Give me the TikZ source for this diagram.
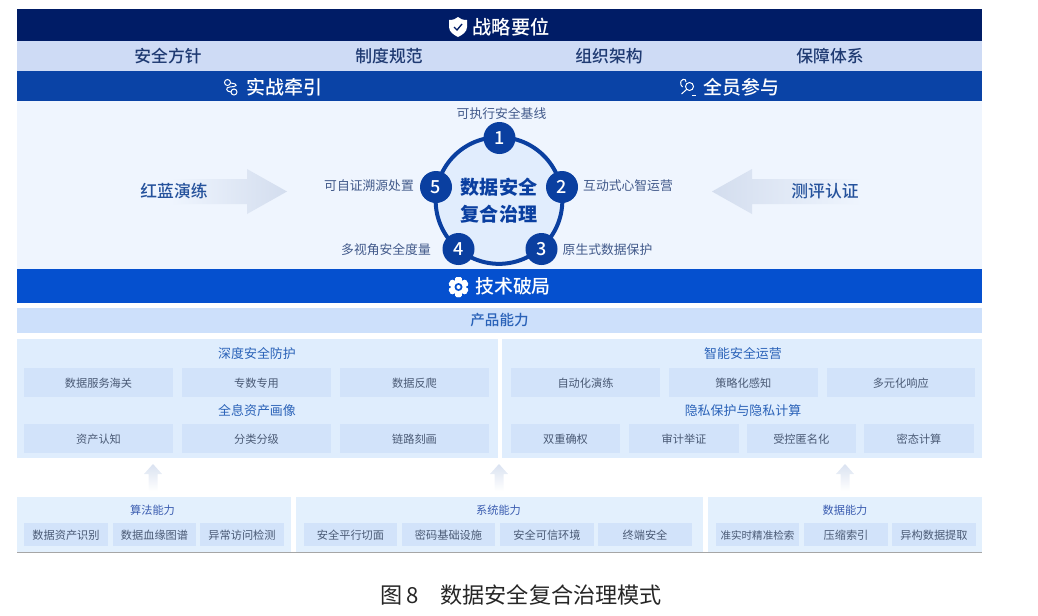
\documentclass[tikz,border=0pt]{standalone}
\usepackage{fontspec}
\setmainfont{Noto Sans CJK SC}
\newfontfamily\medfont{Noto Sans CJK SC Medium}
\usetikzlibrary{calc}
\definecolor{cTop}{HTML}{001C66}
\definecolor{cSub}{HTML}{CEDBF5}
\definecolor{cMid}{HTML}{0A43A6}
\definecolor{cLight}{HTML}{EFF5FE}
\definecolor{cTech}{HTML}{0550CF}
\definecolor{cProd}{HTML}{CDE0FB}
\definecolor{cPanel}{HTML}{DFEDFD}
\definecolor{cItem}{HTML}{D2E3FA}
\definecolor{cBase}{HTML}{E3F0FD}
\definecolor{cNavy}{HTML}{1F3A72}
\definecolor{cLabel}{HTML}{41598A}
\definecolor{cItemT}{HTML}{4A5A75}
\definecolor{cHead}{HTML}{2A62B8}
\definecolor{cHeadB}{HTML}{3A5CB0}
\definecolor{cNum}{HTML}{0A3FA0}
\definecolor{cArrow}{HTML}{D3DDEE}
\newcommand{\fs}[1]{\fontsize{#1}{#1}\selectfont}
\tikzset{
  x=0.75pt,y=-0.75pt,
  box/.style={inner sep=0pt,outer sep=0pt,rectangle,align=center},
  topband/.style={box,fill=cTop},
  subband/.style={box,fill=cSub},
  midband/.style={box,fill=cMid},
  lightarea/.style={box,fill=cLight},
  techband/.style={box,fill=cTech},
  prodband/.style={box,fill=cProd,text=cHead,font=\fs{10.9}\medfont},
  panel/.style={box,fill=cPanel},
  basepanel/.style={box,fill=cBase},
  item/.style={box,fill=cItem,text=cItemT,font=\fs{8.4},text height=8.6pt,text depth=1pt},
  whitelabel/.style={inner sep=0pt,text=white,font=\fs{14.2}\medfont},
  sublabel/.style={inner sep=0pt,text=cNavy,font=\fs{12.6}\medfont},
  grouphead/.style={inner sep=0pt,text=cHead,font=\fs{9.7},text height=10pt,text depth=1.2pt},
  basehead/.style={inner sep=0pt,text=cHeadB,font=\fs{8.4}},
  steplabel/.style={inner sep=0pt,text=cLabel,font=\fs{9.6}},
  sidelabel/.style={inner sep=0pt,text=cHead!60!cNavy,font=\fs{12.6}\medfont},
  numdot/.style={circle,fill=cNum,text=white,inner sep=0pt,minimum size=24pt,font=\fs{13.5}\medfont},
  ring/.style={circle,draw=cNum,fill=cLight!60!cProd,line width=3pt,inner sep=0pt,minimum size=95pt,
    align=center,text=cNum,font=\fs{14.3}\bfseries},
}
\newcommand{\bx}[7]{%
  \pgfmathsetmacro{\bw}{(#4-#2)*0.75}%
  \pgfmathsetmacro{\bh}{(#5-#3)*0.75}%
  \node[#6,minimum width=\bw pt,minimum height=\bh pt] (#1) at ({(#2+#4)/2},{(#3+#5)/2}) {#7};%
}
\newcommand{\uparrowshape}[1]{%
  \path[bottom color=white,top color=cArrow!85!white,shading angle=0]
    ($(#1)+(-4.5,27)$) -- ($(#1)+(-4.5,10)$) -- ($(#1)+(-9,10)$) -- ($(#1)+(0,0)$)
    -- ($(#1)+(9,10)$) -- ($(#1)+(4.5,10)$) -- ($(#1)+(4.5,27)$) -- cycle;%
}
\begin{document}
\begin{tikzpicture}
\useasboundingbox (0,0) rectangle (1038,615);
% bands
\bx{light}{17}{100.5}{982}{269}{lightarea}{}
\bx{top}{17}{9}{982}{41}{topband}{}
\bx{sub}{17}{41}{982}{70.5}{subband}{}
\bx{mid}{17}{70.5}{982}{100.5}{midband}{}
\bx{tech}{17}{269}{982}{303}{techband}{}
\bx{prod}{17}{308}{982}{333}{prodband}{产品能力}
\node[whitelabel,font=\fs{14.4}\medfont] (topt) at (511,27) {战略要位};
% band 2
\node[sublabel] (s1) at (168,56) {安全方针};
\node[sublabel] (s2) at (389,56) {制度规范};
\node[sublabel] (s3) at (609,56) {组织架构};
\node[sublabel] (s4) at (830,56) {保障体系};
% band 3
\node[whitelabel] (m1) at (284.5,87) {实战牵引};
\node[whitelabel] (m2) at (741.5,87) {全员参与};
\node[whitelabel] (techt) at (513,286.5) {技术破局};
% icons
\fill[white] (449,20) .. controls (453,20) and (456,19) .. (458,17) .. controls (460,19) and (463,20) .. (467,20)
  -- (467,27) .. controls (467,32) and (462,35) .. (458,37) .. controls (454,35) and (449,32) .. (449,27) -- cycle;
\draw[cTop,line width=1pt] (454,27) -- (457,30) -- (462,24);
\begin{scope}[white,line width=0.75pt]
  \draw (227.5,82.5) circle (3);
  \draw (234,92) circle (3);
  \draw (230.5,83) .. controls (240,84) and (236,87) .. (230,87) .. controls (225,87) and (226,92) .. (231,92);
  \draw (689.5,86.5) circle (4);
  \draw (686.5,89.5) -- (681.5,94);
  \draw (686,82) .. controls (687,78) and (679,78) .. (681,85) -- (682.5,87);
  \draw (692,95.5) -- (696,95.5);
\end{scope}
\foreach \a in {0,60,...,300}{
  \fill[white,rounded corners=1pt,rotate around={\a:(458.5,287)}] (455.2,277) rectangle (461.8,297);
}
\fill[white] (458.5,287) circle (7.5);
\fill[cTech] (458.5,287) circle (4);
\fill[white] (458.5,287) circle (2);
% side arrows
\path[left color=cLight,right color=cArrow,shading angle=90]
  (170,179) -- (247,179) -- (247,169) -- (287,191.5) -- (247,214) -- (247,204) -- (170,204) -- cycle;
\path[right color=cLight,left color=cArrow,shading angle=90]
  (862,179) -- (752,179) -- (752,169) -- (712,191.5) -- (752,214) -- (752,204) -- (862,204) -- cycle;
\node[sidelabel] (redblue) at (174,191) {红蓝演练};
\node[sidelabel] (ceping) at (825,191) {测评认证};
% ring
\node[ring] (core) at (499,200.5) {数据安全\\[6pt]复合治理};
\node[numdot] (n1) at (499.5,138) {1};
\node[numdot] (n2) at (562,187) {2};
\node[numdot] (n3) at (541.5,249) {3};
\node[numdot] (n4) at (458.5,249) {4};
\node[numdot] (n5) at (436,187) {5};
\node[steplabel] (l1) at (501.5,113.5) {可执行安全基线};
\node[steplabel] (l2) at (628,186) {互动式心智运营};
\node[steplabel] (l3) at (607.5,250) {原生式数据保护};
\node[steplabel] (l4) at (386,250) {多视角安全度量};
\node[steplabel] (l5) at (369,186) {可自证溯源处置};
% product panels
\bx{pl}{17}{339}{497.5}{458}{panel}{}
\bx{pr}{502}{339}{982}{458}{panel}{}
\node[grouphead] (h1) at (257,353) {深度安全防护};
\node[grouphead] (h2) at (257,410) {全息资产画像};
\node[grouphead] (h3) at (743,353) {智能安全运营};
\node[grouphead] (h4) at (743,410) {隐私保护与隐私计算};
\bx{a1}{24}{368}{173}{396.5}{item}{数据服务海关}
\bx{a2}{182}{368}{331}{396.5}{item}{专数专用}
\bx{a3}{340}{368}{489}{396.5}{item}{数据反爬}
\bx{b1}{24}{424}{173}{453}{item}{资产认知}
\bx{b2}{182}{424}{331}{453}{item}{分类分级}
\bx{b3}{340}{424}{489}{453}{item}{链路刻画}
\bx{c1}{511}{368}{660}{396.5}{item}{自动化演练}
\bx{c2}{668.5}{368}{818}{396.5}{item}{策略化感知}
\bx{c3}{826.5}{368}{975}{396.5}{item}{多元化响应}
\bx{d1}{511}{424}{620}{453}{item}{双重确权}
\bx{d2}{629}{424}{739}{453}{item}{审计举证}
\bx{d3}{746.5}{424}{856}{453}{item}{受控匿名化}
\bx{d4}{864}{424}{974}{453}{item}{密态计算}
% up arrows
\coordinate (u1) at (153,464);
\coordinate (u2) at (499,464);
\coordinate (u3) at (845,464);
\uparrowshape{u1}
\uparrowshape{u2}
\uparrowshape{u3}
% base panels
\bx{q1}{17}{497}{291}{552}{basepanel}{}
\bx{q2}{296}{497}{703}{552}{basepanel}{}
\bx{q3}{708}{497}{982}{552}{basepanel}{}
\draw[gray!70,line width=0.6pt] (q1.south west) -- (q3.south east);
\node[basehead] (k1) at (152.5,510) {算法能力};
\node[basehead] (k2) at (498.5,510) {系统能力};
\node[basehead] (k3) at (845,510) {数据能力};
\bx{e1}{24}{523}{108}{546}{item}{数据资产识别}
\bx{e2}{113}{523}{196}{546}{item}{数据血缘图谱}
\bx{e3}{200}{523}{284}{546}{item}{异常访问检测}
\bx{f1}{304}{523}{397}{546}{item}{安全平行切面}
\bx{f2}{402}{523}{495}{546}{item}{密码基础设施}
\bx{f3}{500}{523}{594}{546}{item}{安全可信环境}
\bx{f4}{598}{523}{692}{546}{item}{终端安全}
\bx{g1}{716}{523}{799}{546}{item,font=\fs{7.9}}{准实时精准检索}
\bx{g2}{804}{523}{888}{546}{item}{压缩索引}
\bx{g3}{892}{523}{976}{546}{item}{异构数据提取}
% caption
\node[inner sep=0pt,text=black!85,font=\fs{16.6}] (cap) at (521,594.5) {图\hspace{3.5pt}8\hspace{16pt}数据安全复合治理模式};
\end{tikzpicture}
\end{document}
